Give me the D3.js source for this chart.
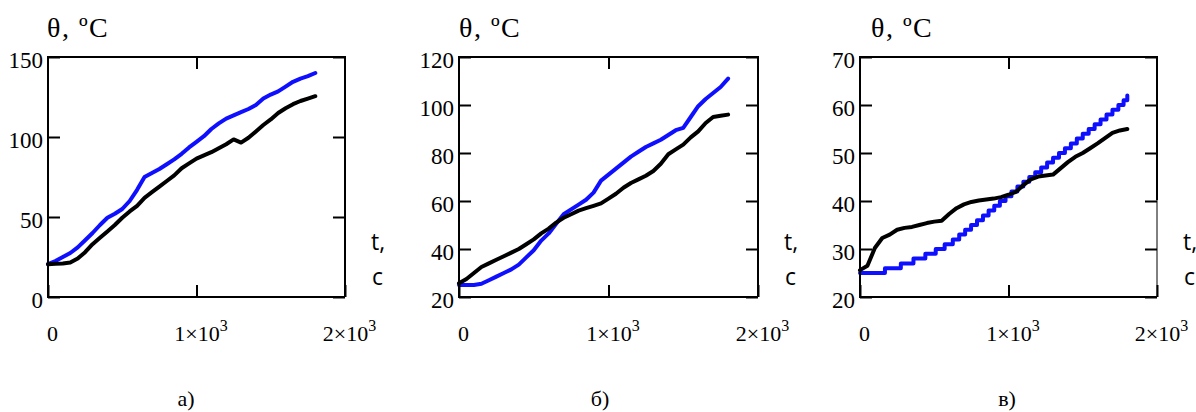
<!DOCTYPE html>
<html><head><meta charset="utf-8">
<script src="https://cdn.jsdelivr.net/npm/d3@7"></script>
</head>
<body style="margin:0;background:#fff">
<script>
// ---------- DATA ----------
const xTicks = [0, 1000, 2000];
const xTickMantissa = ["0", "1\u00d710", "2\u00d710"];
const xTickExponent = ["", "3", "3"];
const times = [0,50,100,150,200,250,300,350,400,450,500,550,600,650,700,750,800,850,900,
  950,1000,1050,1100,1150,1200,1250,1300,1350,1400,1450,1500,1550,1600,1650,1700,1750,1800];

// panel а)
const yTicksA = [0, 50, 100, 150];
const blueA = [20.5,22.5,25,27.5,31,35.5,40,45,49.5,52,55,60,67,75,77.5,80,83,86,89.5,
  93.5,97,100.5,105,108.5,111.5,113.5,115.5,117.5,120,124,126.5,128.5,131.5,134.5,136.5,138,140];
const blackA = [20.5,20.8,21,21.5,24,28,33,37,41,45,49.5,53.5,57,62,65.5,69,72.5,76,80.5,
  83.5,86.5,88.5,90.5,93,95.5,98.5,96.5,99.5,103.5,107.5,111,115,118,120.5,122.5,124,125.5];

// panel б)
const yTicksB = [20, 40, 60, 80, 100, 120];
const blueB = [25,25,25,25.5,27,28.5,30,31.5,33.5,36.5,39.5,43.5,46.5,50.5,54.5,56.5,58.5,60.5,63.5,
  68.5,71,73.5,76,78.5,80.5,82.5,84,85.5,87.5,89.5,90.5,95,99.5,102.5,105,107.5,111];
const blackB = [25.7,27.5,30,32.5,34,35.5,37,38.5,40,42,44,46.5,48.5,51,53,54.5,56,57,58,
  59,61,63,65.5,67.5,69,70.5,72.5,75.5,79.5,81.5,83.5,86.5,89,92.5,95,95.5,96];

// panel в)
const yTicksC = [20, 30, 40, 50, 60, 70];
const blackC = [25.6,26.5,30.2,32.3,33,34,34.4,34.6,35,35.4,35.7,35.9,37.3,38.5,39.3,39.8,40.1,40.3,40.5,
  40.8,41.3,41.9,43.3,44.5,45.1,45.3,45.5,46.8,48.1,49.2,50,51,52,53.1,54.2,54.7,55];
// blue curve of в) is a staircase: time at which each new level starts
const blueCStepTimes = [0,168,275,360,440,510,570,625,668,708,748,788,828,866,904,942,980,1020,1060,
  1100,1140,1180,1220,1260,1300,1340,1380,1420,1460,1500,1540,1580,1620,1660,1700,1740,1775,1800];
const blueCStepValues = [25,26,27,28,29,30,31,32,33,34,35,36,37,38,39,40,41,42,43,
  44,45,46,47,48,49,50,51,52,53,54,55,56,57,58,59,60,61,62];

const panelLetters = ["\u0430)", "\u0431)", "\u0432)"];
const yTitle = "\u03b8, \u00baC";
const xTitle1 = "t,";
const xTitle2 = "c";

// ---------- LAYOUT ----------
const W = 1196, H = 412;
const BLUE = "#0f0fff";
const SERIF = '"Liberation Serif"';
const SANS = '"Open Sans"';

const panels = [
  {left:48, right:345, top:57, bottom:297, yTicks:yTicksA, titleX:47, letterX:186,
   series:[{t:times, v:blueA, color:BLUE}, {t:times, v:blackA, color:"#000"}]},
  {left:459, right:758, top:57, bottom:297, yTicks:yTicksB, titleX:459, letterX:600,
   series:[{t:times, v:blueB, color:BLUE}, {t:times, v:blackB, color:"#000"}]},
  {left:860, right:1157, top:57, bottom:297, yTicks:yTicksC, titleX:871, letterX:1007, thinRightFrom:200,
   series:[{t:blueCStepTimes, v:blueCStepValues, color:BLUE, step:true}, {t:times, v:blackC, color:"#000"}]}
];

const svg = d3.select("body").append("svg")
  .attr("width", W).attr("height", H)
  .style("display", "block");

function font(sel, fam, size) {
  return sel.attr("font-family", null).attr("font-size", null)
    .style("font-family", fam).style("font-size", size + "px").attr("fill", "#000");
}

panels.forEach((p, i) => {
  const x = d3.scaleLinear().domain([xTicks[0], xTicks[xTicks.length-1]]).range([p.left, p.right]);
  const yd = d3.extent(p.yTicks);
  const y = d3.scaleLinear().domain(yd).range([p.bottom, p.top]);
  const g = svg.append("g");

  // data lines
  p.series.forEach(s => {
    const pts = s.t.map((t, k) => [t, s.v[k]]);
    const line = d3.line().x(d => x(d[0])).y(d => y(d[1]))
      .curve(s.step ? d3.curveStepAfter : d3.curveLinear);
    g.append("path").datum(pts)
      .attr("d", line)
      .attr("fill", "none")
      .attr("stroke", s.color)
      .attr("stroke-width", 4)
      .attr("stroke-linejoin", "round")
      .attr("stroke-linecap", "round");
  });

  // left axis (ticks inside, labels outside)
  const ax = g.append("g").attr("transform", `translate(${p.left},0)`)
    .call(d3.axisLeft(y).tickValues(p.yTicks).tickSizeInner(-12).tickSizeOuter(0).tickPadding(5));
  ax.attr("font-family", null).attr("font-size", null);
  ax.select(".domain").remove();
  ax.selectAll("line").attr("stroke", "#000").attr("stroke-width", 2);
  font(ax.selectAll("text"), SERIF, 23).attr("dy", "0.45em");

  // right axis (ticks inside, no labels)
  const ar = g.append("g").attr("transform", `translate(${p.right},0)`)
    .call(d3.axisRight(y).tickValues(p.yTicks).tickSizeInner(-12).tickSizeOuter(0).tickFormat(""));
  ar.select(".domain").remove();
  ar.selectAll("line").attr("stroke", "#000").attr("stroke-width", 2);

  // top axis
  const at = g.append("g").attr("transform", `translate(0,${p.top})`)
    .call(d3.axisTop(x).tickValues([xTicks[1]]).tickSizeInner(-12).tickSizeOuter(0).tickFormat(""));
  at.select(".domain").remove();
  at.selectAll("line").attr("stroke", "#000").attr("stroke-width", 2);

  // bottom axis
  const ab = g.append("g").attr("transform", `translate(0,${p.bottom})`)
    .call(d3.axisBottom(x).tickValues(xTicks).tickSizeInner(-12).tickSizeOuter(0).tickFormat(""));
  ab.attr("font-family", null).attr("font-size", null);
  ab.select(".domain").remove();
  ab.selectAll("line").attr("stroke", "#000").attr("stroke-width", 2);
  ab.selectAll(".tick").each(function(d, k) {
    const tx = font(d3.select(this).select("text"), SERIF, 22)
      .attr("y", 44).attr("dy", 0).attr("x", 4)
      .attr("text-anchor", "middle");
    tx.append("tspan").text(xTickMantissa[k]);
    if (xTickExponent[k]) {
      tx.append("tspan").style("font-size", "16px").attr("dy", -10).text(xTickExponent[k]);
    }
  });

  // frame
  const fr = g.append("g").attr("fill", "none").attr("stroke", "#000");
  fr.append("path").attr("stroke-width", 2)
    .attr("d", `M${p.right},${p.thinRightFrom || p.bottom}V${p.top}H${p.left}V${p.bottom}H${p.right}`);
  if (p.thinRightFrom) {
    fr.append("path").attr("stroke-width", 1)
      .attr("d", `M${p.right},${p.thinRightFrom}V${p.bottom}`);
  }

  // titles
  font(g.append("text"), SERIF, 28).attr("x", p.titleX).attr("y", 37)
    .style("letter-spacing", "1.5px").text(yTitle);
  font(g.append("text"), SANS, 23).attr("x", p.right + 26).attr("y", 250).text(xTitle1);
  font(g.append("text"), SANS, 23).attr("x", p.right + 27).attr("y", 285).text(xTitle2);
  font(g.append("text"), SERIF, 22).attr("x", p.letterX).attr("y", 406)
    .attr("text-anchor", "middle").text(panelLetters[i]);
});
</script>
</body></html>
